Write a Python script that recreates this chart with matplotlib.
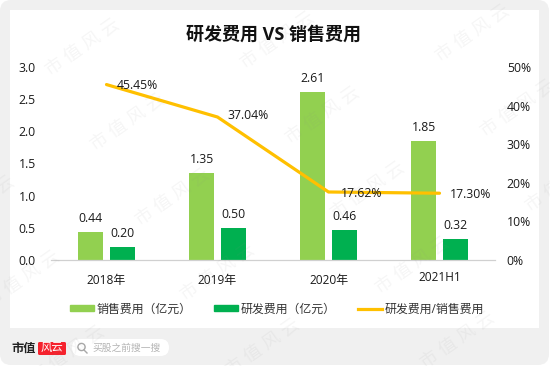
"""R&D vs sales expense chart with the 市值风云 card frame."""
import matplotlib
matplotlib.use("Agg")
import matplotlib.pyplot as plt
from matplotlib.lines import Line2D
from matplotlib.patches import Circle, FancyBboxPatch, Patch, Rectangle
from matplotlib.transforms import ScaledTranslation

plt.rcParams["font.family"] = ["Open Sans", "Noto Sans CJK SC", "DejaVu Sans"]

categories = ["2018年", "2019年", "2020年", "2021H1"]
sales_cost = [0.44, 1.35, 2.61, 1.85]
rd_cost = [0.20, 0.50, 0.46, 0.32]
rd_ratio = [45.45, 37.04, 17.62, 17.30]
left_ticks = [0.0, 0.5, 1.0, 1.5, 2.0, 2.5, 3.0]
right_ticks = [0, 10, 20, 30, 40, 50]

# label offsets in points, from each line point
ratio_offsets = [(22, -1), (22, 1), (23.5, -1), (22, -1)]

W, H = 550, 366
LIGHT_GREEN = "#92D050"
GREEN = "#00B050"
YELLOW = "#FFC000"
TEXT = "#1a1a1a"

fig = plt.figure(figsize=(W / 100, H / 100), dpi=100, facecolor="white")

# card frame, drawn in pixel coordinates
bg = fig.add_axes([0, 0, 1, 1], zorder=-1)
bg.set_xlim(0, W)
bg.set_ylim(H, 0)
bg.axis("off")
bg.add_patch(FancyBboxPatch((0, 0), W - 1, H - 1, boxstyle="round,pad=0,rounding_size=11",
                            fc="#f0f0f0", ec="none"))
bg.add_patch(Rectangle((10, 10), 529, 317.5, fc="white", ec="none"))
bg.add_patch(FancyBboxPatch((72, 339), 97, 17, boxstyle="round,pad=0,rounding_size=8.5",
                            fc="white", ec="none"))
bg.add_patch(FancyBboxPatch((38, 342), 28, 13, boxstyle="round,pad=0,rounding_size=1.5",
                            fc="#f5222d", ec="none"))
bg.add_patch(Circle((81.5, 347), 3.6, fc="none", ec="#a8a8a8", lw=1))
bg.plot([84, 87], [350, 353], color="#a8a8a8", lw=1)
bg.text(11, 348, "市值", fontsize=8.8, fontweight="bold", color="#222222", va="center", ha="left")
bg.text(52, 348, "风云", fontsize=8.2, color="white", va="center", ha="center")
bg.text(92, 348, "买股之前搜一搜", fontsize=7, color="#b4b4b4", va="center", ha="left")

ax = fig.add_axes([51 / W, (H - 260) / H, 444 / W, 193 / H], facecolor="none")
x = list(range(len(categories)))
bar_w = 0.225
shift = 0.144
bars1 = ax.bar([i - shift for i in x], sales_cost, bar_w, color=LIGHT_GREEN)
bars2 = ax.bar([i + shift for i in x], rd_cost, bar_w, color=GREEN)
ax.set_xlim(-0.5, 3.5)
ax.set_ylim(0, 3)
ax.set_xticks(x)
ax.set_xticklabels(categories, fontsize=8.6, color=TEXT)
ax.set_yticks(left_ticks)
ax.set_yticklabels([f"{v:.1f}" for v in left_ticks], fontsize=8.8, color=TEXT)
ax.tick_params(axis="y", length=0, pad=11)
ax.tick_params(axis="x", length=0, pad=10)
for side in ("top", "left", "right"):
    ax.spines[side].set_visible(False)
ax.spines["bottom"].set_color("#d0d0d0")
ax.spines["bottom"].set_linewidth(0.9)

for bars, vals in ((bars1, sales_cost), (bars2, rd_cost)):
    for b, v in zip(bars, vals):
        ax.annotate(f"{v:.2f}", (b.get_x() + b.get_width() / 2, v), xytext=(0, 5),
                    textcoords="offset points", ha="center", va="bottom", fontsize=8.8, color=TEXT)

ax2 = ax.twinx()
ax2.set_facecolor("none")
ax2.plot(x, rd_ratio, color=YELLOW, lw=2.3, solid_capstyle="round", solid_joinstyle="miter")
ax2.set_ylim(0, 50)
ax2.set_yticks(right_ticks)
ax2.set_yticklabels([f"{v}%" for v in right_ticks], fontsize=8.8, color=TEXT)
ax2.tick_params(axis="y", length=0, pad=8.5)
for spine in ax2.spines.values():
    spine.set_visible(False)
for i, v in enumerate(rd_ratio):
    ax2.annotate(f"{v:.2f}%", (x[i], v), xytext=ratio_offsets[i], textcoords="offset points",
                 ha="center", va="center", fontsize=8.8, color=TEXT)

handles = [Patch(color=LIGHT_GREEN), Patch(color=GREEN), Line2D([], [], color=YELLOW, lw=2.3)]
labels = ["销售费用（亿元）", "研发费用（亿元）", "研发费用/销售费用"]
fig.legend(handles, labels, ncol=3, loc="center", bbox_to_anchor=(277 / W, (H - 309) / H),
           frameon=False, fontsize=8.6, labelcolor="#333333", handlelength=2.0, handleheight=0.45,
           handletextpad=0.25, columnspacing=1.85, borderpad=0)

# watermark, repeated across the whole card
for row in range(-1, 3):
    for col in range(-1, 5):
        px = 82 + col * 45 + row * 195
        py = 47 + col * 75 - row * 7
        if px < -40 or px > W + 40 or py < -30 or py > H + 30:
            continue
        fig.text(px / W, 1 - py / H, "市 值 风 云", fontsize=13, color="#8c8c8c", alpha=0.08,
                 rotation=35, rotation_mode="anchor", ha="center", va="center", zorder=5)

fig.text(274 / W, 1 - 35 / H, "研发费用 VS 销售费用", fontsize=13, fontweight="bold",
         color="#111111", ha="center", va="center")

# the last category label sits slightly higher in the reference
last = ax.get_xticklabels()[-1]
last.set_transform(last.get_transform() + ScaledTranslation(0, 2 / 72, fig.dpi_scale_trans))

fig.savefig("out.png", dpi=100)
